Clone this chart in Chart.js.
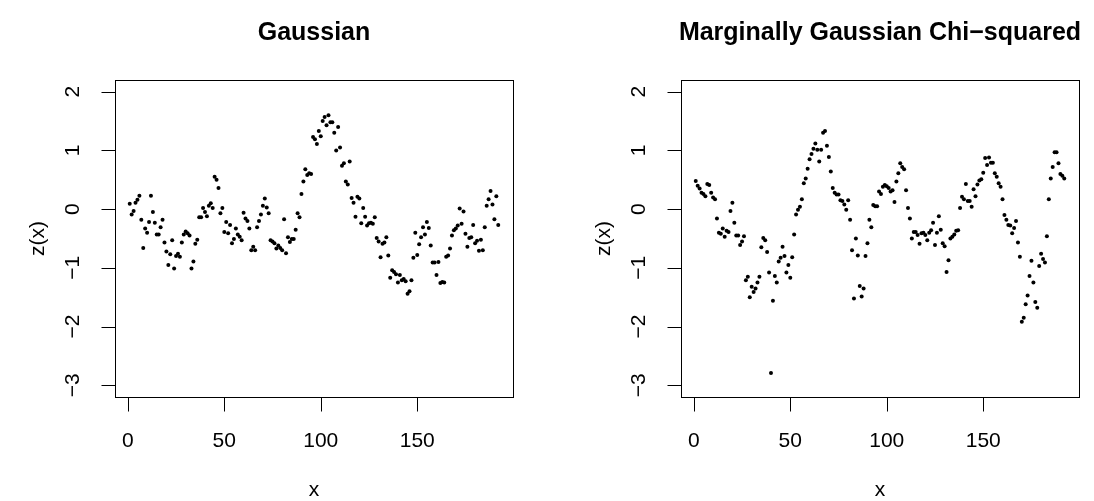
<!DOCTYPE html>
<html>
<head>
<meta charset="utf-8">
<script src="https://cdn.jsdelivr.net/npm/chart.js@4.4.1/dist/chart.umd.min.js"></script>
<style>
  html, body { margin: 0; padding: 0; background: #fff; }
  #wrap { position: relative; width: 1094px; height: 501px; }
  .panel { position: absolute; top: 0; width: 547px; height: 501px; }
</style>
</head>
<body>
<div id="wrap">
  <div class="panel" style="left:0"><canvas id="gaussChart" width="547" height="501"></canvas></div>
  <div class="panel" style="left:547px"><canvas id="chisqChart" width="547" height="501"></canvas></div>
</div>
<script>
// axis ticks shared by both panels
const X_TICKS = [0, 50, 100, 150];
const Y_TICKS = [-3, -2, -1, 0, 1, 2];

// z(x), x = 1..192
const GAUSS_Z = [
  0.09, -0.09, -0.03, 0.11, 0.16, 0.23, -0.18, -0.66, -0.33, -0.40,
  -0.22, 0.23, -0.05, -0.23, -0.43, -0.43, -0.31, -0.18, -0.57, -0.72,
  -0.95, -0.77, -0.53, -1.01, -0.80, -0.76, -0.81, -0.57, -0.43, -0.38,
  -0.41, -0.45, -1.01, -0.89, -0.59, -0.52, -0.14, -0.14, 0.02, -0.05,
  -0.12, 0.06, 0.10, 0.02, 0.55, 0.50, 0.36, -0.07, 0.02, -0.39,
  -0.22, -0.41, -0.27, -0.58, -0.51, -0.33, -0.43, -0.47, -0.53, -0.06,
  -0.16, -0.20, -0.33, -0.70, -0.64, -0.70, -0.31, -0.20, -0.09, 0.06,
  0.18, 0.03, -0.07, -0.53, -0.55, -0.58, -0.67, -0.62, -0.66, -0.70,
  -0.17, -0.75, -0.48, -0.56, -0.51, -0.51, -0.35, -0.07, -0.14, 0.26,
  0.47, 0.68, 0.58, 0.61, 0.60, 1.23, 1.19, 1.11, 1.33, 1.24,
  1.50, 1.57, 1.43, 1.60, 1.48, 1.48, 1.30, 1.00, 1.40, 1.05,
  0.74, 0.78, 0.47, 0.42, 0.81, 0.19, 0.11, -0.13, 0.21, 0.18,
  -0.24, 0.02, -0.13, -0.28, -0.24, -0.23, -0.25, -0.14, -0.49, -0.55,
  -0.82, -0.59, -0.57, -0.48, -0.79, -1.17, -1.04, -1.07, -1.11, -1.25,
  -1.12, -1.21, -1.19, -1.23, -1.44, -1.40, -1.21, -0.83, -0.40, -0.78,
  -0.60, -0.48, -0.31, -0.43, -0.22, -0.32, -0.62, -0.91, -0.91, -1.12,
  -0.90, -1.26, -1.24, -1.25, -0.81, -0.79, -0.67, -0.45, -0.36, -0.33,
  -0.28, 0.01, -0.25, -0.04, -0.42, -0.64, -0.49, -0.48, -0.27, -0.58,
  -0.54, -0.71, -0.52, -0.70, -0.31, 0.06, 0.17, 0.31, 0.08, -0.17,
  0.22, -0.27
];

// z(x)
const CHISQ_Z = [
  0.48, 0.40, 0.35, 0.28, 0.26, 0.22, 0.43, 0.41, 0.28, 0.20,
  0.17, -0.16, -0.40, -0.42, -0.33, -0.47, -0.37, -0.39, -0.03, 0.11,
  -0.23, -0.45, -0.45, -0.61, -0.55, -0.46, -1.21, -1.15, -1.50, -1.32,
  -1.41, -1.35, -1.25, -1.15, -0.65, -0.49, -0.53, -0.73, -1.08, -2.79,
  -1.56, -1.14, -1.25, -0.89, -0.83, -0.64, -0.80, -1.08, -0.95, -1.17,
  -0.82, -0.43, -0.09, -0.01, 0.04, 0.17, 0.44, 0.52, 0.69, 0.85,
  0.94, 1.03, 1.12, 1.01, 0.81, 1.01, 1.30, 1.33, 1.08, 0.89,
  0.64, 0.36, 0.28, 0.25, 0.25, 0.15, 0.14, 0.08, -0.01, 0.15,
  -0.18, -0.70, -1.52, -0.50, -0.79, -1.31, -1.49, -1.35, -0.80, -0.58,
  -0.18, -0.31, 0.07, 0.05, 0.05, 0.30, 0.26, 0.38, 0.41, 0.39,
  0.36, 0.30, 0.32, 0.12, 0.47, 0.61, 0.78, 0.72, 0.68, 0.32,
  0.02, -0.16, -0.50, -0.39, -0.39, -0.44, -0.59, -0.41, -0.40, -0.44,
  -0.53, -0.40, -0.36, -0.23, -0.61, -0.40, -0.12, -0.35, -0.58, -0.63,
  -1.07, -0.87, -0.50, -0.47, -0.43, -0.37, -0.36, 0.02, 0.21, 0.17,
  0.43, 0.14, 0.14, 0.04, 0.34, 0.22, 0.42, 0.49, 0.51, 0.62,
  0.87, 0.75, 0.88, 0.79, 0.79, 0.61, 0.55, 0.44, 0.38, 0.17,
  -0.10, -0.18, -0.27, -0.28, -0.41, -0.32, -0.20, -0.57, -0.81, -1.92,
  -1.85, -1.62, -1.47, -1.14, -0.88, -1.25, -1.58, -1.68, -0.97, -0.76,
  -0.85, -0.91, -0.46, 0.17, 0.52, 0.72, 0.97, 0.97, 0.78, 0.60,
  0.57, 0.52
];

const X_INDEX = GAUSS_Z.map((_, i) => i + 1);

const FONT = '"Liberation Sans", Arial, Helvetica, sans-serif';
const minus = v => (v < 0 ? '\u2212' + Math.abs(v) : String(v));

// base-graphics style box, ticks and labels drawn off the chart's scales
const rFrame = {
  id: 'rFrame',
  afterDraw(chart, args, opts) {
    const { ctx, chartArea: a, scales: { x, y } } = chart;
    const L = Math.round(a.left) + 0.5, R = Math.round(a.right) + 0.5;
    const T = Math.round(a.top) + 0.5, B = Math.round(a.bottom) + 0.5;
    ctx.save();
    ctx.strokeStyle = '#000';
    ctx.lineWidth = 1;
    ctx.strokeRect(L, T, R - L, B - T);

    ctx.beginPath();
    X_TICKS.forEach(v => {
      const px = Math.round(x.getPixelForValue(v)) + 0.5;
      ctx.moveTo(px, B); ctx.lineTo(px, B + 14);
    });
    Y_TICKS.forEach(v => {
      const py = Math.round(y.getPixelForValue(v)) + 0.5;
      ctx.moveTo(L, py); ctx.lineTo(L - 14, py);
    });
    ctx.stroke();

    ctx.fillStyle = '#000';
    ctx.textAlign = 'center';
    ctx.textBaseline = 'alphabetic';
    ctx.font = '21px ' + FONT;
    X_TICKS.forEach(v => ctx.fillText(String(v), x.getPixelForValue(v), B + 49));
    ctx.fillText('x', (a.left + a.right) / 2, B + 98);

    Y_TICKS.forEach(v => {
      ctx.save();
      ctx.translate(L - 37, y.getPixelForValue(v));
      ctx.rotate(-Math.PI / 2);
      ctx.fillText(minus(v), 0, 0);
      ctx.restore();
    });
    ctx.save();
    ctx.translate(L - 71.5, (a.top + a.bottom) / 2);
    ctx.rotate(-Math.PI / 2);
    ctx.fillText('z(x)', 0, 0);
    ctx.restore();

    ctx.font = 'bold 25px ' + FONT;
    ctx.fillText(opts.title, (a.left + a.right) / 2, 40);
    ctx.restore();
  }
};

function renderPanel(canvasId, values, title, pad) {
  const ctx = document.getElementById(canvasId);
  return new Chart(ctx, {
    type: 'scatter',
    data: {
      datasets: [{
        data: X_INDEX.map((x, i) => ({ x: x, y: values[i] })),
        pointRadius: 2,
        pointHoverRadius: 2,
        pointBackgroundColor: '#000',
        pointBorderWidth: 0
      }]
    },
    options: {
      responsive: false,
      animation: false,
      events: [],
      layout: { padding: pad },
      plugins: {
        legend: { display: false },
        tooltip: { enabled: false },
        rFrame: { title: title }
      },
      scales: {
        x: { type: 'linear', min: -6.64, max: 199.64, display: false },
        y: { type: 'linear', min: -3.2, max: 2.2, display: false }
      }
    },
    plugins: [rFrame]
  });
}

renderPanel('gaussChart', GAUSS_Z, 'Gaussian', { left: 115, right: 34, top: 80, bottom: 104 });
renderPanel('chisqChart', CHISQ_Z, 'Marginally Gaussian Chi\u2212squared', { left: 134, right: 15, top: 80, bottom: 104 });
</script>
</body>
</html>
